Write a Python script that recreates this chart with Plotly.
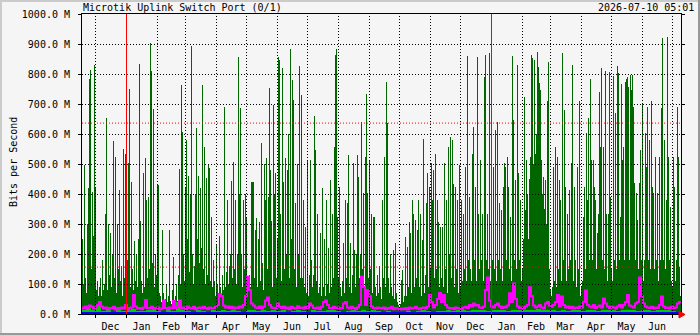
import pandas as pd
import plotly.graph_objects as go

TITLE = "Microtik Uplink Switch Port (0/1)"
STAMP = "2026-07-10 05:01"
Y_LABEL = "Bits per Second"
DATA_START = "2024-11-17"
RANGE_START = "2024-11-18"
RANGE_END = "2026-07-10"

# Max inbound traffic, one value per day (Mbit/s)
max_in = [
    180, 250, 100, 497, 120, 70, 300, 420, 785, 813,
    150, 408, 260, 830, 424, 80, 110, 60, 90, 120,
    60, 180, 80, 100, 335, 654, 80, 300, 130, 270,
    90, 200, 578, 120, 524, 70, 300, 150, 413, 110,
    160, 60, 550, 120, 535, 50, 180, 502, 749, 90,
    441, 150, 80, 245, 110, 200, 90, 250, 833, 310,
    110, 70, 470, 90, 520, 380, 120, 390, 150, 904,
    810, 170, 683, 90, 200, 130, 430, 430, 70, 60,
    40, 280, 70, 35, 50, 100, 40, 60, 280, 45,
    35, 80, 190, 40, 60, 100, 45, 130, 482, 100,
    763, 608, 200, 110, 420, 580, 250, 460, 140, 400,
    893, 200, 100, 160, 400, 619, 250, 460, 170, 420,
    220, 763, 150, 557, 100, 452, 130, 497, 486, 110,
    325, 90, 180, 110, 60, 230, 100, 70, 260, 90,
    60, 130, 80, 691, 90, 140, 380, 100, 160, 200,
    445, 120, 508, 150, 380, 100, 200, 858, 400, 686,
    200, 90, 380, 150, 400, 320, 60, 80, 130, 90,
    441, 441, 441, 120, 280, 320, 90, 250, 308, 110,
    569, 170, 80, 500, 380, 520, 150, 390, 752, 480,
    310, 90, 697, 400, 470, 120, 250, 858, 847, 335,
    110, 819, 440, 150, 520, 200, 480, 600, 120, 882,
    250, 780, 713, 150, 370, 90, 500, 200, 828, 120,
    730, 120, 380, 90, 290, 70, 513, 60, 130, 513,
    180, 90, 130, 660, 546, 110, 335, 70, 90, 270,
    60, 420, 90, 250, 60, 380, 100, 220, 70, 447,
    90, 335, 120, 558, 863, 882, 325, 120, 424, 90,
    60, 110, 236, 70, 380, 120, 369, 530, 90, 236,
    70, 130, 502, 213, 90, 200, 530, 458, 120, 200,
    641, 150, 402, 90, 524, 733, 402, 120, 513, 150,
    335, 70, 324, 324, 90, 60, 130, 70, 160, 90,
    50, 380, 120, 524, 90, 774, 636, 120, 70, 200,
    90, 60, 213, 50, 236, 70, 40, 30, 25, 35,
    113, 147, 40, 60, 258, 60, 224, 90, 308, 269,
    70, 380, 335, 90, 313, 120, 280, 380, 90, 335,
    60, 247, 585, 70, 130, 369, 469, 90, 424, 150,
    502, 380, 480, 120, 535, 150, 380, 308, 90, 291,
    120, 291, 90, 502, 150, 380, 70, 558, 200, 591,
    120, 580, 435, 90, 424, 150, 380, 70, 497, 90,
    380, 110, 335, 150, 491, 110, 860, 180, 391, 150,
    110, 535, 624, 180, 424, 110, 858, 335, 150, 513,
    180, 335, 110, 791, 863, 180, 335, 150, 869, 110,
    90, 180, 491, 150, 613, 110, 641, 180, 369, 150,
    346, 110, 424, 502, 491, 180, 524, 424, 150, 324,
    110, 860, 647, 180, 446, 150, 830, 469, 180, 380,
    110, 150, 250, 723, 347, 513, 400, 250, 450, 524,
    863, 852, 500, 847, 535, 600, 874, 824, 771, 746,
    513, 400, 458, 350, 447, 300, 711, 841, 150, 80,
    60, 91, 491, 110, 558, 90, 524, 150, 447, 380,
    110, 871, 180, 680, 424, 110, 335, 150, 413, 180,
    502, 830, 110, 424, 180, 90, 491, 150, 711, 60,
    90, 110, 324, 424, 150, 602, 380, 653, 180, 783,
    513, 180, 513, 424, 380, 150, 269, 335, 741, 558,
    819, 180, 558, 150, 810, 335, 110, 335, 808, 391,
    150, 110, 793, 180, 669, 150, 827, 804, 180, 324,
    767, 513, 558, 180, 774, 782, 791, 758, 180, 797,
    747, 797, 691, 436, 180, 402, 313, 150, 436, 547,
    180, 702, 110, 180, 602, 491, 691, 180, 580, 150,
    710, 424, 402, 150, 524, 180, 402, 110, 524, 180,
    688, 919, 180, 580, 150, 380, 924, 524, 180, 358,
    110, 90, 524, 424, 110, 180, 691, 524, 158, 60,
]

# Average inbound traffic, one value per 5 days (Mbit/s)
avg_in = [
    15, 20, 12, 30, 10, 12, 8, 14, 10, 12, 18, 10,
    10, 12, 15, 10, 8, 12, 10, 40, 12, 10, 8, 12,
    10, 8, 12, 10, 14, 10, 12, 10, 8, 12, 15, 10,
    12, 10, 14, 10, 12, 8, 10, 12, 10, 8, 12, 10,
    10, 12, 14, 10, 8, 10, 12, 10, 14, 10, 12, 10,
    8, 10, 8, 6, 8, 10, 8, 10, 12, 10, 8, 10,
    10, 12, 10, 14, 12, 10, 12, 14, 12, 10, 12, 14,
    12, 10, 14, 12, 15, 12, 14, 18, 15, 14, 12, 10,
    12, 10, 14, 12, 10, 12, 14, 10, 12, 14, 12, 10,
    12, 14, 12, 10, 14, 12, 10, 12, 14, 12, 10, 8,
]

# Max outbound traffic, one value per 2 days (Mbit/s)
max_out = [
    22, 18, 25, 20, 28, 24, 18, 22, 30, 40,
    25, 18, 22, 16, 20, 18, 24, 15, 20, 17,
    22, 18, 30, 15, 20, 22, 63, 25, 18, 20,
    16, 22, 47, 20, 18, 24, 17, 20, 22, 15,
    18, 45, 20, 16, 22, 18, 43, 20, 25, 45,
    18, 22, 16, 25, 20, 18, 24, 16, 20, 22,
    18, 24, 20, 16, 22, 18, 20, 24, 30, 66,
    60, 28, 22, 25, 20, 24, 18, 22, 20, 25,
    22, 30, 60, 124, 80, 35, 28, 22, 20, 25,
    18, 24, 45, 55, 30, 22, 20, 18, 35, 24,
    20, 25, 18, 22, 16, 24, 20, 18, 26, 20,
    22, 18, 24, 20, 35, 28, 20, 18, 22, 16,
    24, 40, 45, 30, 20, 18, 24, 20, 22, 18,
    20, 35, 40, 22, 18, 24, 20, 16, 22, 30,
    124, 90, 30, 80, 60, 25, 20, 18, 22, 20,
    18, 22, 16, 20, 18, 24, 16, 20, 18, 15,
    18, 16, 20, 15, 22, 18, 20, 24, 18, 16,
    20, 22, 18, 24, 63, 40, 22, 30, 50, 70,
    40, 63, 30, 22, 18, 20, 16, 22, 18, 20,
    16, 22, 24, 20, 30, 25, 35, 28, 30, 22,
    20, 24, 80, 122, 45, 25, 22, 30, 35, 25,
    20, 24, 22, 28, 69, 40, 102, 50, 25, 20,
    22, 18, 25, 30, 89, 60, 28, 22, 25, 30,
    22, 18, 35, 40, 28, 24, 30, 40, 63, 25,
    58, 30, 22, 25, 20, 24, 18, 22, 20, 25,
    22, 40, 78, 30, 25, 22, 30, 20, 24, 28,
    22, 52, 35, 25, 20, 24, 22, 18, 25, 30,
    22, 30, 40, 63, 28, 25, 22, 35, 40, 122,
    60, 35, 25, 22, 20, 24, 18, 22, 20, 30,
    58, 25, 20, 22, 18, 24, 20, 22, 35, 40,
]

# Average outbound traffic, one value per 30 days (Mbit/s)
avg_out = [3, 3, 3, 3, 3, 3, 3, 3.5, 3, 3, 3, 3, 3, 3, 3, 3, 3, 3, 3, 3]

y_ticks = [0, 100, 200, 300, 400, 500, 600, 700, 800, 900, 1000]
y_tick_text = ["%.1f M" % v for v in y_ticks]
pct_in = 638
pct_out = 158
year_marks = ["2025-01-01", "2026-01-01"]

# ---------------------------------------------------------------
W, H = 700, 335
ML, MR, MT, MB = 82, 19, 14, 21
PW, PH = W - ML - MR, H - MT - MB
DAY = 86400000
FONT = "DejaVu Sans Mono"


def px(xp, yp):
    return (xp - ML) / PW, (H - MB - yp) / PH


fig = go.Figure()
fig.add_trace(go.Bar(
    x=pd.date_range(DATA_START, periods=len(max_in), freq="D"), y=max_in,
    width=DAY, offset=0, marker=dict(color="#006600", line=dict(width=0)),
    hoverinfo="skip"))
fig.add_trace(go.Bar(
    x=pd.date_range(DATA_START, periods=len(avg_in), freq="5D"), y=avg_in,
    width=5 * DAY, offset=0, marker=dict(color="#00cc00", line=dict(width=0)),
    hoverinfo="skip"))
mo_x = list(pd.date_range(DATA_START, periods=len(max_out), freq="2D")) + [pd.Timestamp(RANGE_END)]
fig.add_trace(go.Scatter(x=mo_x, y=max_out + [max_out[-1]], mode="lines",
                         line=dict(color="#ff00ff", width=2, shape="hv"), hoverinfo="skip"))
ao_x = list(pd.date_range(DATA_START, periods=len(avg_out), freq="30D")) + [pd.Timestamp(RANGE_END)]
fig.add_trace(go.Scatter(x=ao_x, y=avg_out + [avg_out[-1]], mode="lines",
                         line=dict(color="#0000ff", width=2, shape="hv"), hoverinfo="skip"))

shapes = []
half_v = 1000.0 / PH / 2
for v in y_ticks[1:-1]:
    shapes.append(dict(type="line", xref="paper", yref="y", x0=0, x1=1,
                       y0=v - half_v, y1=v - half_v, layer="above",
                       line=dict(color="black", width=1, dash="1px,2px")))
months = pd.date_range("2024-12-01", RANGE_END, freq="MS")
for m in months:
    xm = m + pd.Timedelta(hours=12)
    shapes.append(dict(type="line", xref="x", yref="paper", x0=xm, x1=xm, y0=0, y1=1,
                       layer="above", line=dict(color="black", width=1, dash="1px,2px")))
for v in (pct_in, pct_out):
    shapes.append(dict(type="line", xref="paper", yref="y", x0=0, x1=1,
                       y0=v - half_v, y1=v - half_v, layer="above",
                       line=dict(color="#ff0000", width=1, dash="1px,2px")))
for d in year_marks:
    xm = pd.Timestamp(d) + pd.Timedelta(hours=12)
    shapes.append(dict(type="line", xref="x", yref="paper", x0=xm, x1=xm, y0=0, y1=1,
                       layer="above", line=dict(color="#ff0000", width=1)))

# arrow at the end of the time axis
a = [px(679, 311), px(685, 314.5), px(679, 318)]
shapes.append(dict(type="path", xref="paper", yref="paper", layer="above",
                   path="M %f,%f L %f,%f L %f,%f Z" % (a[0][0], a[0][1], a[1][0], a[1][1], a[2][0], a[2][1]),
                   fillcolor="#ff0000", line=dict(color="#ff0000", width=1)))


def rect(x0, y0, x1, y1, color):
    p0 = px(x0, y0)
    p1 = px(x1, y1)
    return dict(type="rect", xref="paper", yref="paper", x0=p0[0], y0=p0[1], x1=p1[0], y1=p1[1],
                fillcolor=color, line=dict(width=0), layer="above")


shapes += [rect(0, 0, W, 2, "#cbcbcb"), rect(0, 0, 2, H, "#cbcbcb"),
           rect(0, H - 2, W, H, "#999999"), rect(W - 2, 0, W, H, "#999999")]

tx, ty = px(81, 8)
sx, _ = px(696, 8)
lx, ly = px(13, 162)
annotations = [
    dict(text=TITLE, xref="paper", yref="paper", x=tx, y=ty, xanchor="left", yanchor="middle",
         showarrow=False, font=dict(family=FONT, size=10, color="black")),
    dict(text=STAMP, xref="paper", yref="paper", x=sx, y=ty, xanchor="right", yanchor="middle",
         showarrow=False, font=dict(family=FONT, size=10, color="black")),
    dict(text=Y_LABEL, xref="paper", yref="paper", x=lx, y=ly, xanchor="center", yanchor="middle",
         textangle=-90, showarrow=False, font=dict(family=FONT, size=10, color="black")),
]

fig.update_layout(
    width=W, height=H, margin=dict(l=ML, r=MR, t=MT, b=MB, pad=0, autoexpand=False),
    paper_bgcolor="#f5f5f5", plot_bgcolor="#f5f5f5",
    showlegend=False, barmode="overlay", bargap=0, bargroupgap=0,
    font=dict(family=FONT, size=10, color="black"),
    shapes=shapes, annotations=annotations,
    xaxis=dict(type="date", range=[RANGE_START, RANGE_END], showgrid=False, zeroline=False,
               dtick="M1", tick0="2024-12-01", tickformat="%b", ticklabelmode="period",
               ticks="outside", ticklen=3, tickcolor="black", showline=True, linecolor="black",
               linewidth=1, mirror=True, automargin=False,
               tickfont=dict(family=FONT, size=10, color="black")),
    yaxis=dict(range=[0, 1000], tickvals=y_ticks, ticktext=y_tick_text, showgrid=False,
               zeroline=False, ticks="outside", ticklen=3, tickcolor="black", showline=True,
               linecolor="black", linewidth=1, mirror="ticks", ticklabelstandoff=6, automargin=False,
               tickfont=dict(family=FONT, size=10, color="black")),
)

fig.write_html("out.html")
